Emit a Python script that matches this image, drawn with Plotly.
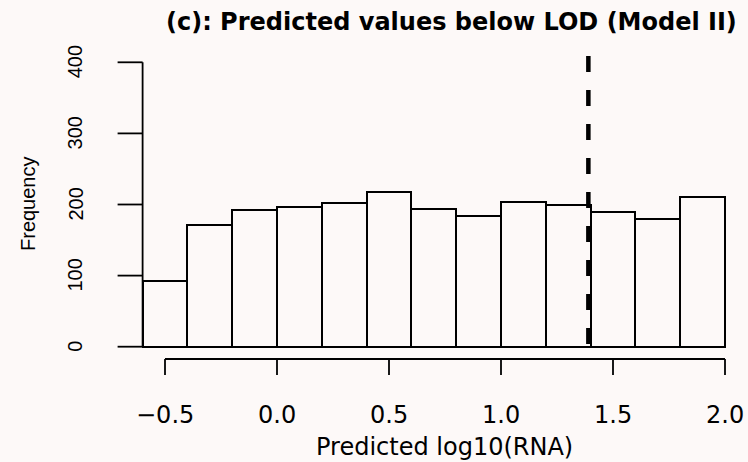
import plotly.graph_objects as go

# Histogram of predicted log10(RNA) values that fall below the LOD
bin_edges = [-0.6, -0.4, -0.2, 0.0, 0.2, 0.4, 0.6, 0.8, 1.0, 1.2, 1.4, 1.6, 1.8, 2.0]
counts = [92, 171, 192, 196, 202, 218, 193, 184, 203, 199, 189, 179, 210]
lod_log10 = 1.39

x_ticks = [-0.5, 0.0, 0.5, 1.0, 1.5, 2.0]
x_tick_labels = ["\u22120.5", "0.0", "0.5", "1.0", "1.5", "2.0"]
y_ticks = [0, 100, 200, 300, 400]
y_tick_labels = ["0", "100", "200", "300", "400"]

title_text = "(c): Predicted values below LOD (Model II)"
x_title = "Predicted log10(RNA)"
y_title = "Frequency"

# ---- page geometry ----
W, H = 748, 462
BG = "#fdf9f8"
FONT = "DejaVu Sans"
FONT_V = "Liberation Sans"
X_ZERO_PX, X_PX_PER_UNIT = 277.0, 224.0
Y_ZERO_PX, Y_PX_PER_UNIT = 346.7, 0.711

x_range = [-X_ZERO_PX / X_PX_PER_UNIT, (W - X_ZERO_PX) / X_PX_PER_UNIT]
y_range = [-(H - Y_ZERO_PX) / Y_PX_PER_UNIT, Y_ZERO_PX / Y_PX_PER_UNIT]

centers = [(a + b) / 2 for a, b in zip(bin_edges[:-1], bin_edges[1:])]
widths = [b - a for a, b in zip(bin_edges[:-1], bin_edges[1:])]

fig = go.Figure()
fig.add_trace(go.Bar(
    x=centers, y=counts, width=widths,
    marker=dict(color=BG, line=dict(color="black", width=2)),
    hoverinfo="x+y",
))

shapes = []
AX_W = 1.8
# y axis: line from first to last tick, drawn at the left bin edge
shapes.append(dict(type="line", xref="x", yref="y",
                   x0=bin_edges[0], x1=bin_edges[0], y0=y_ticks[0], y1=y_ticks[-1],
                   line=dict(color="black", width=AX_W)))
for t in y_ticks:
    shapes.append(dict(type="line", xref="x", yref="y", xsizemode="pixel",
                       xanchor=bin_edges[0], x0=-25, x1=0, y0=t, y1=t,
                       line=dict(color="black", width=AX_W)))
# x axis: offset below the bars
X_AXIS_OFF = -12.3
shapes.append(dict(type="line", xref="x", yref="y", ysizemode="pixel",
                   yanchor=0, x0=x_ticks[0], x1=x_ticks[-1], y0=X_AXIS_OFF, y1=X_AXIS_OFF,
                   line=dict(color="black", width=AX_W)))
for t in x_ticks:
    shapes.append(dict(type="line", xref="x", yref="y", ysizemode="pixel",
                       yanchor=0, x0=t, x1=t, y0=X_AXIS_OFF, y1=X_AXIS_OFF - 16,
                       line=dict(color="black", width=AX_W)))
# LOD reference line
shapes.append(dict(type="line", xref="x", yref="y",
                   x0=lod_log10, x1=lod_log10, y0=409, y1=-16,
                   line=dict(color="black", width=4.5, dash="16px,18px")))

annotations = []
for t, lab in zip(x_ticks, x_tick_labels):
    annotations.append(dict(x=t, xref="x", y=1 - 415 / H, yref="paper",
                            text=lab, showarrow=False, xanchor="center", yanchor="middle",
                            font=dict(family=FONT, size=24, color="black")))
for t, lab in zip(y_ticks, y_tick_labels):
    annotations.append(dict(x=75 / W, xref="paper", y=t, yref="y",
                            text=lab, showarrow=False, textangle=-90,
                            xanchor="center", yanchor="middle",
                            font=dict(family=FONT_V, size=20, color="black")))
annotations.append(dict(x=444 / W, xref="paper", y=1 - 446.5 / H, yref="paper",
                        text=x_title, showarrow=False, xanchor="center", yanchor="middle",
                        font=dict(family=FONT, size=24, color="black")))
annotations.append(dict(x=28 / W, xref="paper", y=1 - 203 / H, yref="paper",
                        text=y_title, showarrow=False, textangle=-90,
                        xanchor="center", yanchor="middle",
                        font=dict(family=FONT_V, size=20, color="black")))
annotations.append(dict(x=451.5 / W, xref="paper", y=1 - 22.5 / H, yref="paper",
                        text="<b>" + title_text + "</b>", showarrow=False,
                        xanchor="center", yanchor="middle",
                        font=dict(family=FONT, size=24, color="black")))

fig.update_layout(
    width=W, height=H,
    margin=dict(l=0, r=0, t=0, b=0, pad=0),
    paper_bgcolor=BG, plot_bgcolor=BG,
    showlegend=False, bargap=0,
    xaxis=dict(range=x_range, visible=False, fixedrange=True),
    yaxis=dict(range=y_range, visible=False, fixedrange=True),
    shapes=shapes, annotations=annotations,
)

fig.write_html("out.html")
